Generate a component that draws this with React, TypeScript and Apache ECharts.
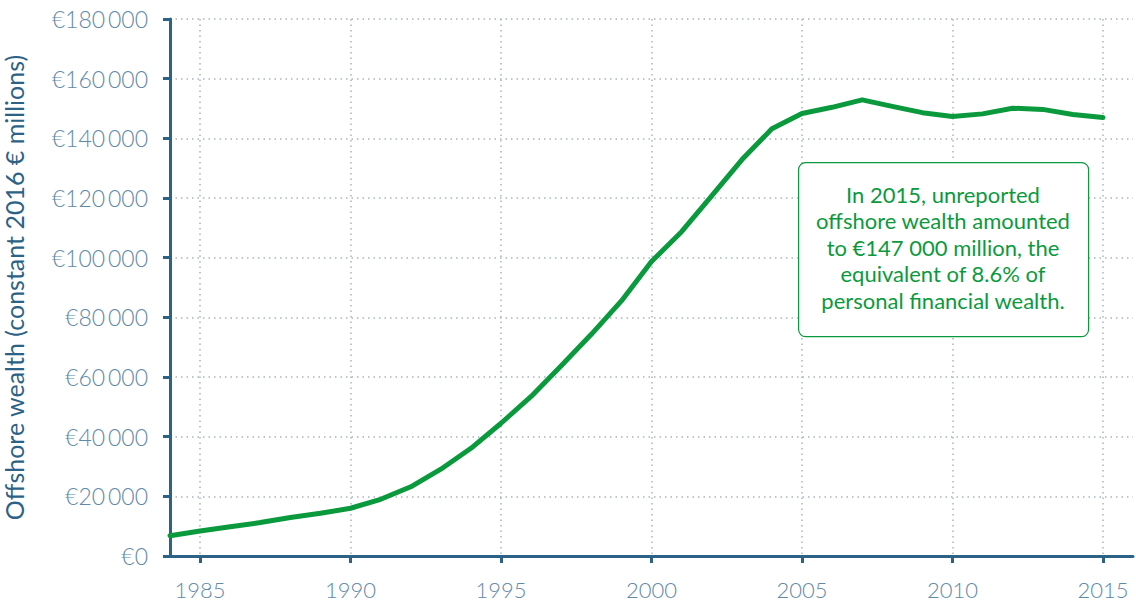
import React, { useEffect, useRef } from "react";
import * as echarts from "echarts";

const years = [1984, 1985, 1986, 1987, 1988, 1989, 1990, 1991, 1992, 1993, 1994, 1995, 1996, 1997, 1998, 1999, 2000, 2001, 2002, 2003, 2004, 2005, 2006, 2007, 2008, 2009, 2010, 2011, 2012, 2013, 2014, 2015];
const wealth = [6800, 8400, 9800, 11200, 12900, 14300, 16000, 19000, 23200, 29100, 36100, 44500, 53500, 63800, 74300, 85500, 98700, 108700, 120700, 132800, 143200, 148300, 150400, 152900, 150700, 148600, 147300, 148200, 150100, 149700, 148000, 147000];
const xTicks = [1985, 1990, 1995, 2000, 2005, 2010, 2015];
const yAxisTitle = "Offshore wealth (constant 2016 € millions)";
const noteLines = [
  "In 2015, unreported",
  "offshore wealth amounted",
  "to €147 000 million, the",
  "equivalent of 8.6% of",
  "personal financial wealth.",
];

const AXIS = "#2c6286";
const LABEL = "#5e89a8";
const GREEN = "#0a9a3d";
const GRID = "#a9b4bf";

function fmtEuro(v: number): string {
  if (v === 0) return "€0";
  const s = String(Math.round(v));
  const head = s.slice(0, s.length - 3);
  const tail = s.slice(s.length - 3);
  return "€" + head + "\u2009" + tail;
}

export default function App() {
  const ref = useRef<HTMLDivElement>(null);
  useEffect(() => {
    if (!ref.current) return;
    const chart = echarts.init(ref.current, null, { renderer: "svg" });
    chart.setOption({
      animation: false,
      textStyle: { fontFamily: "Lato" },
      grid: { left: 170, right: 3, top: 19, bottom: 47, containLabel: false, outerBoundsMode: "none" },
      xAxis: {
        type: "value",
        min: 1984,
        max: 2016,
        axisLine: { show: true, onZero: false, lineStyle: { color: AXIS, width: 3 } },
        axisTick: { show: true, customValues: xTicks, length: 7, lineStyle: { color: AXIS, width: 3 } },
        axisLabel: {
          customValues: xTicks,
          color: LABEL,
          fontSize: 22,
          fontWeight: 300,
          fontFamily: "Lato",
          margin: 22,
          formatter: (v: number) => String(v),
        },
        splitLine: { show: true, lineStyle: { color: GRID, type: [1.5, 4], width: 1.5 } },
      },
      yAxis: {
        type: "value",
        min: 0,
        max: 180000,
        interval: 20000,
        name: yAxisTitle,
        nameLocation: "middle",
        nameGap: 144,
        nameTextStyle: { color: AXIS, fontSize: 25, fontFamily: "Lato" },
        axisLine: { show: true, lineStyle: { color: AXIS, width: 3 } },
        axisTick: { show: true, length: 7, lineStyle: { color: AXIS, width: 3 } },
        axisLabel: {
          color: LABEL,
          fontSize: 23,
          fontWeight: 300,
          fontFamily: "Lato",
          margin: 22,
          formatter: (v: number) => fmtEuro(v),
        },
        splitLine: { show: true, lineStyle: { color: GRID, type: [1.5, 4], width: 1.5 } },
      },
      series: [
        {
          type: "line",
          data: years.map((y, i) => [y, wealth[i]]),
          showSymbol: false,
          symbol: "none",
          lineStyle: { color: GREEN, width: 5, cap: "round", join: "round" },
          z: 5,
        },
      ],
      graphic: [
        {
          type: "rect",
          left: 798,
          top: 162,
          shape: { width: 290, height: 174, r: 7 },
          style: { fill: "#ffffff", stroke: GREEN, lineWidth: 1.2 },
          z: 10,
        },
        {
          type: "text",
          x: 943,
          y: 247,
          z: 11,
          style: {
            text: noteLines.join("\n"),
            align: "center",
            verticalAlign: "middle",
            fill: GREEN,
            fontSize: 22,
            lineHeight: 26.5,
            fontFamily: "Lato",
          },
        },
      ],
    });
    return () => chart.dispose();
  }, []);
  return <div ref={ref} style={{ width: 1136, height: 603, position: "absolute", left: 0, top: 0 }} />;
}
